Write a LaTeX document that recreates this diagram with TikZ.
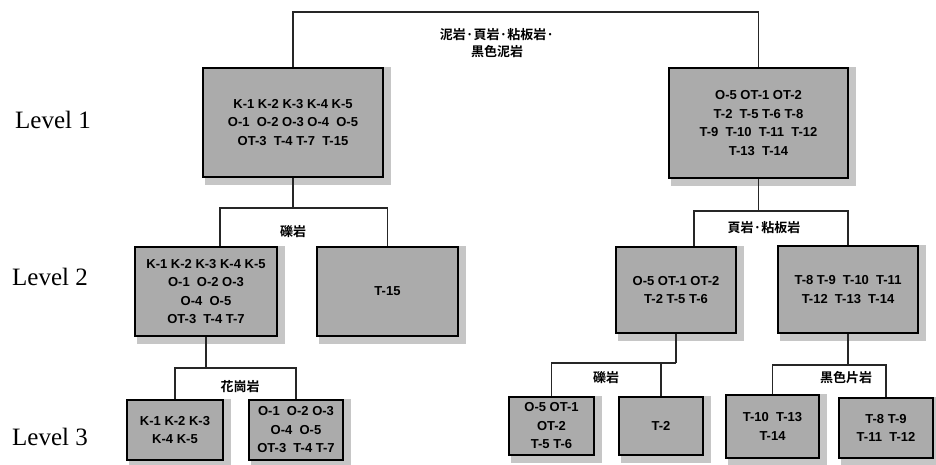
\documentclass[tikz,border=0pt]{standalone}
\usepackage{fontspec}
\setmainfont{Liberation Serif}
\newfontfamily\boxfont{Liberation Sans}
\newfontfamily\cjkfont{Noto Sans CJK JP}[BoldFont={* Bold}]
\usetikzlibrary{backgrounds}
\begin{document}
\begin{tikzpicture}[x=1pt,y=-1pt,
  box/.style={draw=black, line width=2.8pt, fill=boxgray, align=center,
    inner sep=0pt, font=\boxfont\bfseries\fontsize{13}{18.5}\selectfont},
  conn/.style={draw=black!85, line width=1.1pt},
  lab/.style={font=\cjkfont\bfseries\fontsize{13}{17}\selectfont, align=center, inner sep=0pt},
  lvl/.style={font=\fontsize{25}{29}\selectfont, anchor=west, inner sep=0pt}]
\definecolor{boxgray}{HTML}{ABABAB}
\definecolor{shadowgray}{HTML}{C6C6C6}
\useasboundingbox (0,0) rectangle (936,465);

% level labels
\node[lvl] (lv1) at (15,120) {Level 1};
\node[lvl] (lv2) at (12,277) {Level 2};
\node[lvl] (lv3) at (12,437) {Level 3};

% boxes
\node[box, minimum width=180, minimum height=109] (L1a) at (293,122.5)
  {K-1 K-2 K-3 K-4 K-5\\O-1\ \ O-2 O-3 O-4\ \ O-5\\OT-3\ \ T-4 T-7\ \ T-15};
\node[box, minimum width=179, minimum height=110] (L1b) at (758.5,123)
  {O-5 OT-1 OT-2\\T-2\ \ T-5 T-6 T-8\\T-9\ \ T-10\ \ T-11\ \ T-12\\T-13\ \ T-14};
\node[box, minimum width=142, minimum height=89] (L2a) at (206,291.5)
  {K-1 K-2 K-3 K-4 K-5\\O-1\ \ O-2 O-3\\O-4\ \ O-5\\OT-3\ \ T-4 T-7};
\node[box, minimum width=141, minimum height=89] (L2b) at (387.5,291.5) {T-15};
\node[box, minimum width=120, minimum height=86] (L2c) at (676,290)
  {O-5 OT-1 OT-2\\T-2 T-5 T-6};
\node[box, minimum width=140, minimum height=87] (L2d) at (848,289.5)
  {T-8 T-9\ \ T-10\ \ T-11\\T-12\ \ T-13\ \ T-14};
\node[box, minimum width=96, minimum height=60] (L3a) at (175,430)
  {K-1 K-2 K-3\\K-4 K-5};
\node[box, minimum width=94, minimum height=60] (L3b) at (296,430)
  {O-1\ \ O-2 O-3\\O-4\ \ O-5\\OT-3\ \ T-4 T-7};
\node[box, minimum width=85, minimum height=58] (L3c) at (551.5,426)
  {O-5 OT-1\\OT-2\\T-5 T-6};
\node[box, minimum width=84, minimum height=58] (L3d) at (661,426) {T-2};
\node[box, minimum width=93, minimum height=63] (L3e) at (772.5,426.5)
  {T-10\ \ T-13\\T-14};
\node[box, minimum width=94, minimum height=60] (L3f) at (886,428)
  {T-8 T-9\\T-11\ \ T-12};

% shadows
\begin{scope}[on background layer]
\foreach \n in {L1a,L1b,L2a,L2b,L2c,L2d,L3a,L3b,L3c,L3d,L3e,L3f}
  \fill[shadowgray] ([xshift=3pt]\n.north west) rectangle ([xshift=7pt,yshift=-7pt]\n.south east);
\end{scope}

% junction coordinates
\coordinate (t0) at (526,12);
\coordinate (j1) at (293,208);
\coordinate (j2) at (758.5,211);
\coordinate (j3) at (206,368);
\coordinate (j4) at (676,363);
\coordinate (j5) at (848,365);
\coordinate (d2a) at ([xshift=14pt]L2a.north);
\coordinate (d2c) at ([xshift=18pt]L2c.north);

% connectors
\draw[conn] (L1a.north) |- (t0) -| (L1b.north);
\draw[conn] (L1a.south) -- (j1);
\draw[conn] (d2a) |- (j1) -| (L2b.north);
\draw[conn] (L1b.south) -- (j2);
\draw[conn] (d2c) |- (j2) -| (L2d.north);
\draw[conn] (L2a.south) -- (j3);
\draw[conn] (L3a.north) |- (j3) -| (L3b.north);
\draw[conn] (L2c.south) -- (j4);
\draw[conn] (L3c.north) |- (j4);
\draw[conn] (L3d.north) -- (L3d.north |- j4);
\draw[conn] (L2d.south) -- (j5);
\draw[conn] (L3e.north) |- (j5) -| (L3f.north);

% branch labels
\node[lab] (b0) at (497,43) {泥岩·頁岩·粘板岩·\\黒色泥岩};
\node[lab] (b1) at (293,232) {礫岩};
\node[lab] (b2) at (764,228) {頁岩·粘板岩};
\node[lab] (b3) at (240,387) {花崗岩};
\node[lab] (b4) at (606,378) {礫岩};
\node[lab] (b5) at (846,378) {黒色片岩};
\end{tikzpicture}
\end{document}
